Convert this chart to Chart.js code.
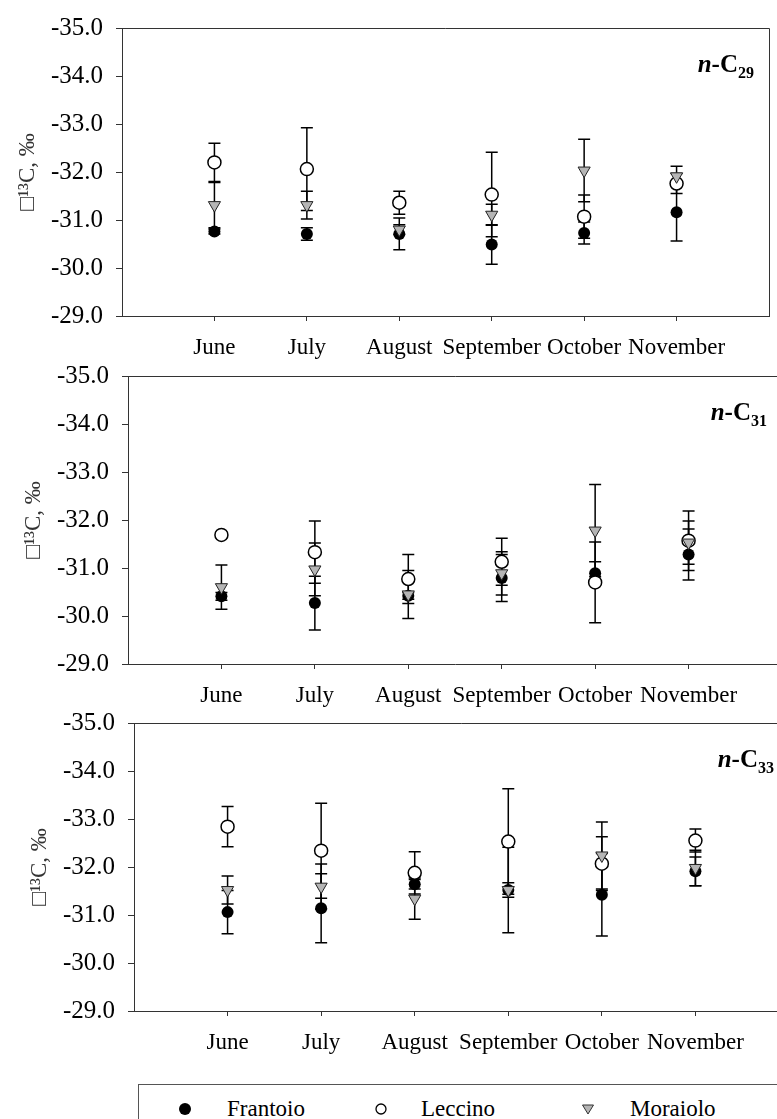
<!DOCTYPE html>
<html>
<head>
<meta charset="utf-8">
<script src="https://cdn.jsdelivr.net/npm/chart.js@4.4.0/dist/chart.umd.min.js"></script>
<style>
body { margin: 0; width: 777px; height: 1119px; overflow: hidden; position: relative; background: #fff; font-family: "Liberation Serif", serif; }
canvas { position: absolute; left: 0; }
#legend { position: absolute; left: 138px; top: 1084px; width: 700px; height: 60px; border: 1px solid #555; box-sizing: border-box; }
.mk { position: absolute; }
.lt { position: absolute; top: 11px; font-size: 23px; line-height: 26px; color: #000; white-space: nowrap; }
</style>
</head>
<body>
<canvas id="c29" width="777" height="370" style="top:0px"></canvas>
<canvas id="c31" width="790" height="370" style="top:348px"></canvas>
<canvas id="c33" width="800" height="370" style="top:695px"></canvas>

<div id="legend">
  <svg class="mk" style="left:39px;top:17px" width="14" height="14"><circle cx="7" cy="7" r="6" fill="#000"/></svg>
  <span class="lt" style="left:88px">Frantoio</span>
  <svg class="mk" style="left:235px;top:17px" width="14" height="14"><circle cx="7" cy="7" r="5" fill="#fff" stroke="#000" stroke-width="1.3"/></svg>
  <span class="lt" style="left:282px">Leccino</span>
  <svg class="mk" style="left:442px;top:18px" width="14" height="14"><polygon points="1.5,2 12.5,2 7,11" fill="#b5b5b5" stroke="#333" stroke-width="1"/></svg>
  <span class="lt" style="left:491px">Moraiolo</span>
</div>

<script>
const months = ["June", "July", "August", "September", "October", "November"]

// n-C29
const c29Frantoio = [-30.76, -30.71, -30.71, -30.49, -30.73, -31.16]
const c29FrantoioSd = [0.05, 0.13, 0.33, 0.41, 0.23, 0.60]
const c29Leccino = [-32.20, -32.06, -31.36, -31.53, -31.07, -31.76]
const c29LeccinoSd = [0.40, 0.86, 0.24, 0.88, 0.45, 0.21]
const c29Moraiolo = [-31.31, -31.31, -30.80, -31.11, -32.03, -31.91]
const c29MoraioloSd = [0.47, 0.29, 0.10, 0.22, 0.65, 0.21]

// n-C31
const c31Frantoio = [-30.41, -30.27, -30.42, -30.79, -30.89, -31.28]
const c31FrantoioSd = [0.08, 0.56, 0.07, 0.49, 0.24, 0.53]
const c31Leccino = [-31.69, -31.33, -30.77, -31.13, -30.70, -31.57]
const c31LeccinoSd = [0.05, 0.65, 0.51, 0.49, 0.84, 0.62]
const c31Moraiolo = [-30.60, -30.97, -30.45, -30.89, -31.78, -31.53]
const c31MoraioloSd = [0.46, 0.55, 0.50, 0.45, 0.96, 0.45]

// n-C33
const c33Frantoio = [-31.06, -31.14, -31.64, -31.52, -31.42, -31.91]
const c33FrantoioSd = [0.45, 0.72, 0.10, 0.89, 0.86, 0.30]
const c33Leccino = [-32.84, -32.34, -31.88, -32.53, -32.07, -32.55]
const c33LeccinoSd = [0.42, 0.99, 0.44, 1.10, 0.56, 0.24]
const c33Moraiolo = [-31.52, -31.59, -31.34, -31.52, -32.24, -31.98]
const c33MoraioloSd = [0.29, 0.47, 0.43, 0.15, 0.70, 0.37]

const yTicks = [-35, -34, -33, -32, -31, -30, -29]

const serif = "'Liberation Serif', 'Times New Roman', serif"

// error bars drawn behind the markers
const errorBars = {
    id: "errorBars",
    beforeDatasetsDraw(chart) {
        const ctx = chart.ctx
        const xs = chart.scales.x
        const ys = chart.scales.y
        ctx.save()
        ctx.strokeStyle = "#000"
        ctx.lineWidth = 1.5
        for (let ds of chart.data.datasets) {
            ds.data.forEach((p, i) => {
                const e = ds.errors[i]
                const px = xs.getPixelForValue(p.x)
                const y1 = ys.getPixelForValue(p.y - e)
                const y2 = ys.getPixelForValue(p.y + e)
                ctx.beginPath()
                ctx.moveTo(px, y1)
                ctx.lineTo(px, y2)
                ctx.moveTo(px - 6, y1)
                ctx.lineTo(px + 6, y1)
                ctx.moveTo(px - 6, y2)
                ctx.lineTo(px + 6, y2)
                ctx.stroke()
            })
        }
        ctx.restore()
    }
}

// top and right sides of the box + the n-Cxx label
const frameAndLabel = {
    id: "frameAndLabel",
    afterDraw(chart, args, opts) {
        const ctx = chart.ctx
        const a = chart.chartArea
        ctx.save()
        ctx.strokeStyle = "#333"
        ctx.lineWidth = 1
        ctx.beginPath()
        ctx.moveTo(a.left, Math.round(a.top) + 0.5)
        ctx.lineTo(Math.round(a.right) + 0.5, Math.round(a.top) + 0.5)
        ctx.lineTo(Math.round(a.right) + 0.5, a.bottom)
        ctx.stroke()

        ctx.fillStyle = "#000"
        ctx.textBaseline = "alphabetic"
        const base = a.top + 44
        ctx.font = "bold 16px " + serif
        const wSub = ctx.measureText(opts.sub).width
        ctx.font = "bold 25px " + serif
        const wC = ctx.measureText("-C").width
        ctx.font = "italic bold 25px " + serif
        const wN = ctx.measureText("n").width
        let x = a.right - 15 - wSub - wC - wN
        ctx.fillText("n", x, base)
        x += wN
        ctx.font = "bold 25px " + serif
        ctx.fillText("-C", x, base)
        x += wC
        ctx.font = "bold 16px " + serif
        ctx.fillText(opts.sub, x, base + 6)
        ctx.restore()
    }
}

function points(vals) {
    return vals.map((v, i) => ({x: i + 1, y: v}))
}

function makePanel(id, sub, frantoio, frantoioSd, leccino, leccinoSd, moraiolo, moraioloSd, padLeft, padRight) {
    new Chart(id, {
        type: "line",
        data: {
            datasets: [{
                label: "Frantoio",
                data: points(frantoio),
                errors: frantoioSd,
                showLine: false,
                pointStyle: "circle",
                pointRadius: 6,
                pointBorderWidth: 0,
                pointBackgroundColor: "#000",
                pointBorderColor: "#000",
                order: 2
            }, {
                label: "Leccino",
                data: points(leccino),
                errors: leccinoSd,
                showLine: false,
                pointStyle: "circle",
                pointRadius: 6.5,
                pointBorderWidth: 1.5,
                pointBackgroundColor: "#fff",
                pointBorderColor: "#000",
                order: 1
            }, {
                label: "Moraiolo",
                data: points(moraiolo),
                errors: moraioloSd,
                showLine: false,
                pointStyle: "triangle",
                rotation: 180,
                pointRadius: 7,
                pointBorderWidth: 1,
                pointBackgroundColor: "#b5b5b5",
                pointBorderColor: "#222",
                order: 0
            }]
        },
        options: {
            responsive: false,
            animation: false,
            devicePixelRatio: 1,
            layout: {padding: {top: 24, left: padLeft, right: padRight, bottom: 0}},
            plugins: {
                legend: {display: false},
                tooltip: {enabled: false},
                frameAndLabel: {sub: sub}
            },
            scales: {
                x: {
                    type: "linear",
                    min: 0,
                    max: 7,
                    afterFit: (s) => { s.height = 54 },
                    afterBuildTicks: (s) => { s.ticks = s.ticks.filter(t => t.value >= 1 && t.value <= 6) },
                    ticks: {
                        stepSize: 1,
                        autoSkip: false,
                        maxRotation: 0,
                        minRotation: 0,
                        padding: 13,
                        color: "#000",
                        font: {family: serif, size: 23},
                        callback: (v) => months[v - 1] || ""
                    },
                    grid: {drawOnChartArea: false, tickLength: 5, color: "#333"},
                    border: {color: "#333", width: 1}
                },
                y: {
                    type: "linear",
                    reverse: true,
                    min: yTicks[0],
                    max: yTicks[yTicks.length - 1],
                    afterFit: (s) => { s.width = 122 },
                    ticks: {
                        stepSize: 1,
                        padding: 13,
                        color: "#000",
                        font: {family: serif, size: 25},
                        callback: (v) => v.toFixed(1)
                    },
                    grid: {drawOnChartArea: false, tickLength: 6, color: "#333"},
                    border: {color: "#333", width: 1},
                    title: {
                        display: true,
                        text: "\u25A1\u00B9\u00B3C, \u2030",
                        color: "#333",
                        padding: {top: 14, bottom: 0},
                        font: {family: serif, size: 23}
                    }
                }
            }
        },
        plugins: [errorBars, frameAndLabel]
    })
}

makePanel("c29", "29", c29Frantoio, c29FrantoioSd, c29Leccino, c29LeccinoSd, c29Moraiolo, c29MoraioloSd, 0, 2)
makePanel("c31", "31", c31Frantoio, c31FrantoioSd, c31Leccino, c31LeccinoSd, c31Moraiolo, c31MoraioloSd, 6, 6.5)
makePanel("c33", "33", c33Frantoio, c33FrantoioSd, c33Leccino, c33LeccinoSd, c33Moraiolo, c33MoraioloSd, 12, 11)
</script>
</body>
</html>
